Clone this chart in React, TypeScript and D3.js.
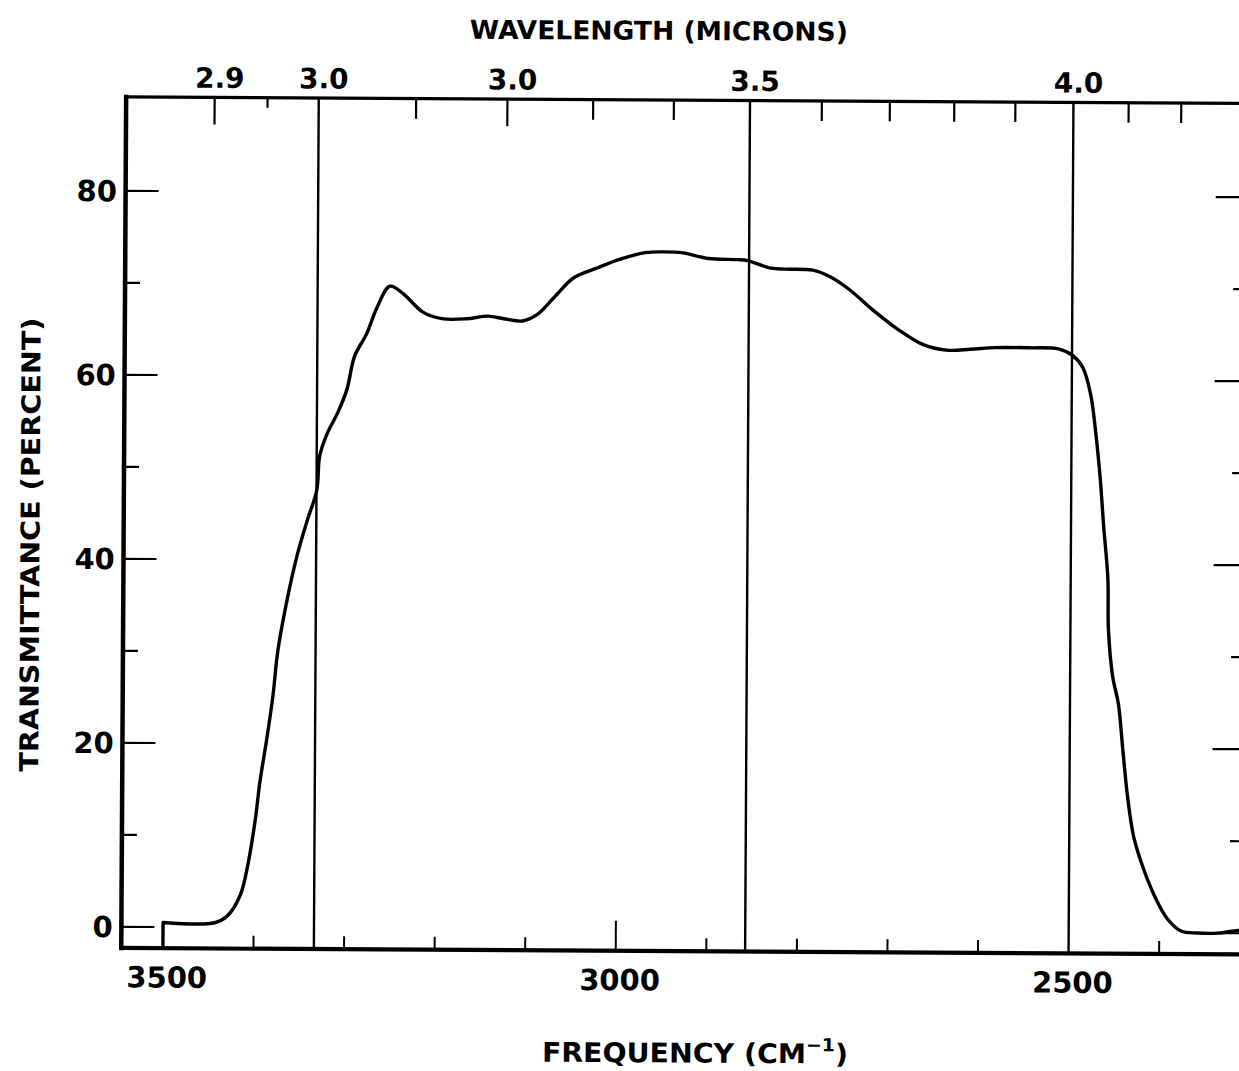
import React from "react";
import * as d3 from "d3";

// Transmittance curve (frequency in cm^-1, transmittance in percent)
const freq = [
  3500, 3500, 3443, 3429.5, 3415, 3406.6, 3399, 3394, 3386.5, 3380, 3375, 3365, 3354.5,
  3343.6, 3333, 3330, 3322, 3310, 3300.5, 3292, 3279, 3268, 3253.5, 3239, 3217, 3196,
  3169, 3145, 3126, 3107, 3091, 3072, 3051, 3025, 2998.5, 2972, 2951, 2930, 2902, 2870,
  2859, 2833, 2817, 2787, 2767.5, 2746, 2720, 2692, 2665, 2639, 2612, 2584.5, 2547, 2515,
  2499.5, 2488, 2479, 2473.5, 2468, 2464, 2459, 2458, 2453, 2446.5, 2441.5, 2436, 2429,
  2418, 2404, 2391, 2376, 2357.6, 2335.5, 2313, 2300,
];
const trans = [
  -2.3, 0.5, 0.5, 1.2, 3.5, 6.9, 11.6, 15.8, 20.6, 25.3, 30.1, 35.7, 40.4,
  44.2, 47.6, 51.3, 53.7, 56.1, 58.5, 62.2, 64.6, 67.4, 69.8, 69.0, 67.0, 66.3,
  66.3, 66.6, 66.3, 66.1, 66.8, 68.7, 70.8, 71.9, 72.9, 73.6, 73.7, 73.6, 73.0, 72.9,
  72.8, 72.0, 71.9, 71.8, 71.1, 69.7, 67.5, 65.4, 63.8, 63.2, 63.3, 63.5, 63.5, 63.4,
  62.7, 61.4, 58.4, 54.5, 49.3, 44.2, 38.5, 32.9, 27.8, 24.8, 20.0, 14.9, 10.5,
  7.0, 3.7, 1.5, 0.2, 0.0, 0.0, 0.3, 0.3,
];

// Axes
const freqDomain = [3546, 2307];
const transDomain = [-2.3, 90.2];
const freqTicks = [3500, 3400, 3300, 3200, 3100, 3000, 2900, 2800, 2700, 2600, 2400];
const freqLongTicks = [3000];
const freqLabels = ["3500", "3000", "2500"];
const wlTicks = [2.9, 2.95, 3.1, 3.2, 3.3, 3.4, 3.6, 3.7, 3.8, 3.9, 4.1, 4.2];
const wlLongTicks = [2.9, 3.2];
const wlShortTicks = [2.95];
const wlLines = [3.0, 3.5, 4.0];
const wlLabelValues = [2.9, 3.0, 3.2, 3.5, 4.0];
const wlLabelTexts = ["2.9", "3.0", "3.0", "3.5", "4.0"];
const tMajor = [0, 20, 40, 60, 80];
const tMinor = [10, 30, 50, 70];

const FONT = "'DejaVu Sans', Verdana, sans-serif";

export default function App() {
  const W = 1239;
  const H = 1071;
  const x = d3.scaleLinear().domain(freqDomain).range([123.7, 1245.8]);
  const y = d3.scaleLinear().domain(transDomain).range([950.7, 99.7]);
  const [x0, x1] = x.range();
  const [yB, yT] = y.range();
  const wx = (um: number) => x(1e4 / um);

  const pts = freq.map((f, i) => [x(f), y(trans[i])] as [number, number]);
  const line = d3.line().curve(d3.curveCatmullRom.alpha(0.5));
  const rest = line(pts.slice(1)) || "";
  const curveD = `M${pts[0][0]},${pts[0][1]}` + rest.replace(/^M/, "L");

  const ink = "#000";

  return (
    <svg
      width={W}
      height={H}
      viewBox={`0 0 ${W} ${H}`}
      style={{ position: "absolute", left: 0, top: 0, background: "#fff", display: "block" }}
    >
      <rect x={0} y={0} width={W} height={H} fill="#fff" />
      <g transform="rotate(0.33 600 525)">
        {/* reference wavelength lines */}
        {wlLines.map((um) => (
          <line key={"wl" + um} x1={wx(um)} x2={wx(um)} y1={yT} y2={yB} stroke={ink} strokeWidth={2.4} />
        ))}

        {/* frame */}
        <line x1={x0} x2={x1} y1={yT} y2={yT} stroke={ink} strokeWidth={3.2} strokeLinecap="square" />
        <line x1={x0} x2={x1} y1={yB} y2={yB} stroke={ink} strokeWidth={4.2} strokeLinecap="square" />
        <line x1={x0} x2={x0} y1={yT} y2={yB} stroke={ink} strokeWidth={4.5} strokeLinecap="square" />
        <line x1={x1} x2={x1} y1={yT} y2={yB} stroke={ink} strokeWidth={4.5} strokeLinecap="square" />

        {/* bottom ticks */}
        {freqTicks.map((f) => (
          <line key={"ft" + f} x1={x(f)} x2={x(f)} y1={yB} y2={yB - (freqLongTicks.includes(f) ? 30 : 13)} stroke={ink} strokeWidth={2} />
        ))}
        {freqLabels.map((t) => (
          <text key={"fl" + t} x={x(+t) + 4} y={990} textAnchor="middle" fontFamily={FONT} fontWeight="bold" fontSize={29} fill={ink}>
            {t}
          </text>
        ))}

        {/* top ticks */}
        {wlTicks.map((um) => (
          <line
            key={"wt" + um}
            x1={wx(um)}
            x2={wx(um)}
            y1={yT}
            y2={yT + (wlLongTicks.includes(um) ? 27 : wlShortTicks.includes(um) ? 10 : 20)}
            stroke={ink}
            strokeWidth={2.2}
          />
        ))}
        {wlLabelValues.map((um, i) => (
          <text key={"wlab" + i} x={wx(um) + 5} y={90} textAnchor="middle" fontFamily={FONT} fontWeight="bold" fontSize={28} fill={ink}>
            {wlLabelTexts[i]}
          </text>
        ))}

        {/* left and right ticks */}
        {tMajor.map((t) => (
          <g key={"tm" + t}>
            <line x1={x0} x2={x0 + 33} y1={y(t)} y2={y(t)} stroke={ink} strokeWidth={2.2} />
            <line x1={x1} x2={x1 - 32} y1={y(t)} y2={y(t)} stroke={ink} strokeWidth={2.2} />
            <text x={115} y={y(t) + 10.5} textAnchor="end" fontFamily={FONT} fontWeight="bold" fontSize={29} fill={ink}>
              {t}
            </text>
          </g>
        ))}
        {tMinor.map((t) => (
          <g key={"tn" + t}>
            <line x1={x0} x2={x0 + 15} y1={y(t)} y2={y(t)} stroke={ink} strokeWidth={2.2} />
            <line x1={x1} x2={x1 - 14} y1={y(t)} y2={y(t)} stroke={ink} strokeWidth={2.2} />
          </g>
        ))}

        {/* curve */}
        <path d={curveD} fill="none" stroke={ink} strokeWidth={3.4} strokeLinejoin="round" strokeLinecap="round" />

        {/* titles */}
        <text x={656} y={39.5} textAnchor="middle" fontFamily={FONT} fontWeight="bold" fontSize={26} textLength={378} lengthAdjust="spacingAndGlyphs" fill={ink}>
          WAVELENGTH (MICRONS)
        </text>
        <text x={698} y={1062} textAnchor="middle" fontFamily={FONT} fontWeight="bold" fontSize={27} textLength={306} lengthAdjust="spacingAndGlyphs" fill={ink}>
          FREQUENCY (CM
          <tspan fontSize={18} dy={-12}>−1</tspan>
          <tspan dy={12}>)</tspan>
        </text>
        <text
          transform="translate(39.5 548) rotate(-90)"
          x={0}
          y={0}
          textAnchor="middle"
          fontFamily={FONT}
          fontWeight="bold"
          fontSize={26}
          textLength={454}
          lengthAdjust="spacingAndGlyphs"
          fill={ink}
        >
          TRANSMITTANCE (PERCENT)
        </text>
      </g>
    </svg>
  );
}
